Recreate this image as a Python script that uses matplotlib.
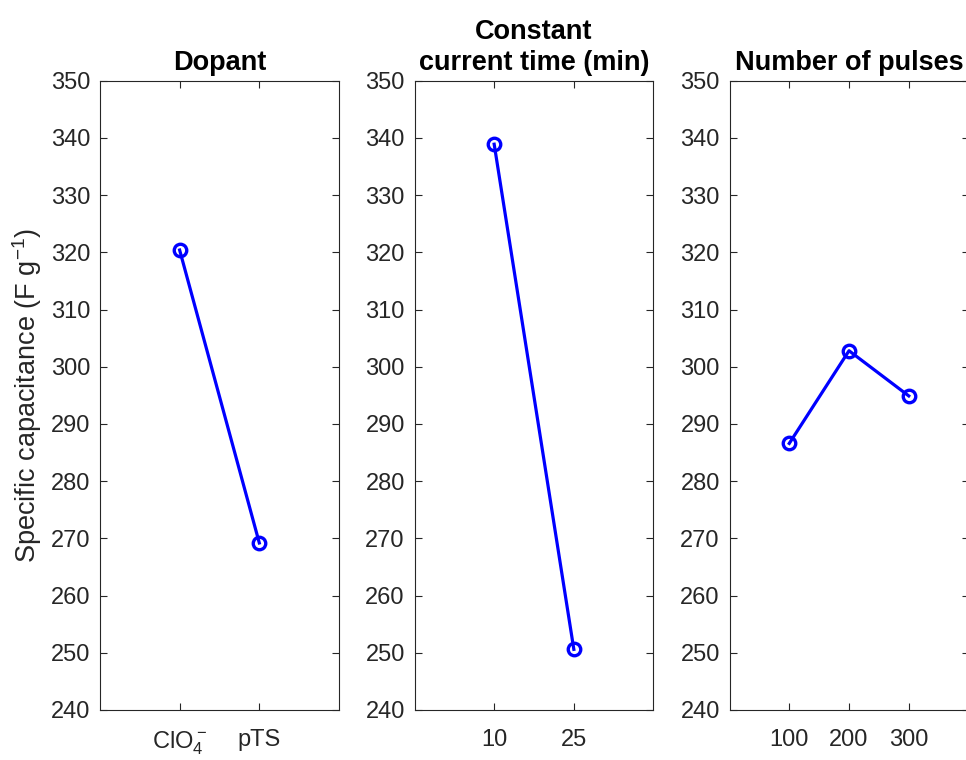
import matplotlib
matplotlib.use("Agg")
import matplotlib.pyplot as plt

plt.rcParams['font.family'] = ['Liberation Sans', 'DejaVu Sans']
plt.rcParams['mathtext.default'] = 'regular'

# data
dopant_labels = [r'ClO$_4^-$', 'pTS']
dopant_vals = [320.4, 269.2]

time_labels = ['10', '25']
time_vals = [338.9, 250.6]

pulse_labels = ['100', '200', '300']
pulse_vals = [286.6, 302.8, 294.9]

titles = ['Dopant', 'Constant\ncurrent time (min)', 'Number of pulses']
panels = [(dopant_labels, dopant_vals), (time_labels, time_vals), (pulse_labels, pulse_vals)]
lefts = [0.1035, 0.4291, 0.7552]

fig = plt.figure(figsize=(9.66, 7.6), dpi=100)
dark = '#262626'

for i, (labels, vals) in enumerate(panels):
    ax = fig.add_axes([lefts[i], 0.0658, 0.2474, 0.828])
    xs = list(range(1, len(vals) + 1))
    ax.plot(xs, vals, color='#0000ff', lw=2.3, marker='o', ms=9,
            mfc='none', mec='#0000ff', mew=2.4)
    ax.set_xlim(0, len(vals) + 1)
    ax.set_ylim(240, 350)
    ax.set_yticks(range(240, 351, 10))
    ax.set_xticks(xs)
    ax.set_xticklabels(labels)
    ax.tick_params(direction='in', length=5, width=0.8, top=True, right=True,
                   labelsize=17, colors=dark, labelcolor=dark)
    ax.tick_params(axis='x', pad=14)
    ax.tick_params(axis='y', pad=7)
    for s in ax.spines.values():
        s.set_color(dark)
        s.set_linewidth(0.8)
    ax.set_title(titles[i], fontsize=19.5, fontweight='bold', pad=8, linespacing=1.25)
    if i == 0:
        ax.set_ylabel(r'Specific capacitance (F g$^{-1}$)', fontsize=19.5, color=dark)
        ax.yaxis.set_label_coords(-0.235, 0.5)

fig.savefig('out.png', dpi=100)
